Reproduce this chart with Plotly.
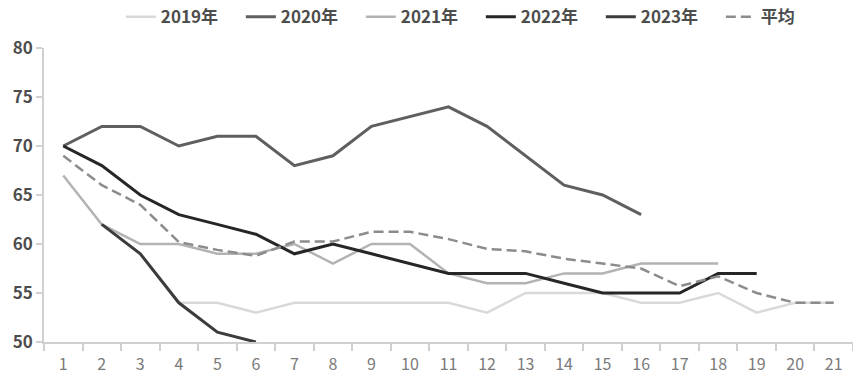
import plotly.graph_objects as go

weeks = list(range(1, 22))
tick_labels = [str(w) for w in weeks]

y2019 = [None, None, None, 54, 54, 53, 54, 54, 54, 54, 54, 53, 55, 55, 55, 54, 54, 55, 53, 54, 54]
y2020 = [70, 72, 72, 70, 71, 71, 68, 69, 72, 73, 74, 72, 69, 66, 65, 63]
y2021 = [67, 62, 60, 60, 59, 59, 60, 58, 60, 60, 57, 56, 56, 57, 57, 58, 58, 58]
y2022 = [70, 68, 65, 63, 62, 61, 59, 60, 59, 58, 57, 57, 57, 56, 55, 55, 55, 57, 57]
y2023 = [None, 62, 59, 54, 51, 50]
yavg = [69, 66, 64, 60.2, 59.4, 58.8, 60.25, 60.25, 61.25, 61.25, 60.5, 59.5, 59.25,
        58.5, 58, 57.5, 55.7, 56.7, 55, 54, 54]

series = [
    ("2019年", y2019, "#d9d9d9", 2.5, "solid"),
    ("2020年", y2020, "#5f5f5f", 3, "solid"),
    ("2021年", y2021, "#b3b3b3", 2.5, "solid"),
    ("2022年", y2022, "#262626", 3, "solid"),
    ("2023年", y2023, "#3c3c3c", 3, "solid"),
    ("平均", yavg, "#8c8c8c", 2.5, "10px,5px"),
]

fig = go.Figure()
for name, ys, color, width, dash in series:
    fig.add_trace(go.Scatter(
        x=weeks[:len(ys)], y=ys, name=name, mode="lines",
        line=dict(color=color, width=width, dash=dash),
        connectgaps=False,
    ))

font_family = "Noto Sans CJK SC, Noto Sans, sans-serif"
fig.update_layout(
    width=853, height=392,
    margin=dict(l=44, r=0, t=48, b=50, autoexpand=False),
    plot_bgcolor="white", paper_bgcolor="white",
    font=dict(family=font_family, size=14, color="#595959"),
    showlegend=True,
    legend=dict(
        orientation="h", x=0.095, xanchor="left", y=1.105, yanchor="middle",
        font=dict(size=17, color="#4d4d4d", family=font_family, weight="bold"),
        entrywidth=75, entrywidthmode="pixels", traceorder="normal",
        bgcolor="rgba(0,0,0,0)",
    ),
    xaxis=dict(
        range=[0.5, 21.5], tickvals=weeks, ticktext=tick_labels,
        ticks="", showgrid=False, zeroline=False, automargin=False,
        showline=True, linecolor="#d0d0d0", linewidth=1.5,
        tickfont=dict(size=16, color="#7a7a7a"), ticklabelstandoff=7,
        minor=dict(tick0=0.5, dtick=1, ticks="outside", ticklen=7,
                   tickcolor="#d0d0d0", tickwidth=1.5, showgrid=False),
    ),
    yaxis=dict(
        range=[50, 80], dtick=5, ticks="outside", ticklen=6,
        tickcolor="#d0d0d0", tickwidth=1.5, automargin=False,
        showgrid=False, zeroline=False,
        showline=True, linecolor="#d0d0d0", linewidth=1.5,
        tickfont=dict(size=17, color="#4d4d4d", weight="bold"),
    ),
)

fig.write_html("out.html", config={"displayModeBar": False},
               post_script="document.body.style.margin='0';")
